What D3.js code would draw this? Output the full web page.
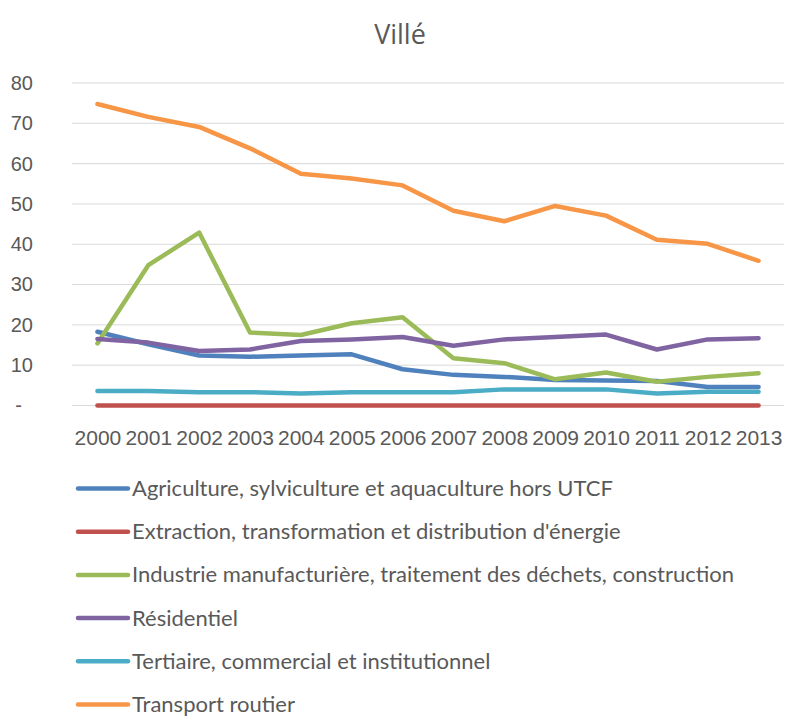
<!DOCTYPE html>
<html><head><meta charset="utf-8">
<script src="https://cdn.jsdelivr.net/npm/d3@7"></script>
<style>
html,body{margin:0;padding:0;background:#fff;}
svg{display:block;}
</style></head>
<body>
<script>
const years = ["2000","2001","2002","2003","2004","2005","2006","2007","2008","2009","2010","2011","2012","2013"];
const seriesNames = [
  "Agriculture, sylviculture et aquaculture hors UTCF",
  "Extraction, transformation et distribution d'énergie",
  "Industrie manufacturière, traitement des déchets, construction",
  "Résidentiel",
  "Tertiaire, commercial et institutionnel",
  "Transport routier"
];
const agriculture = [18.3,15.2,12.4,12.1,12.4,12.7,9.0,7.6,7.1,6.3,6.2,6.1,4.6,4.6];
const energie     = [0,0,0,0,0,0,0,0,0,0,0,0,0,0];
const industrie   = [15.4,34.8,42.9,18.1,17.5,20.4,21.9,11.7,10.5,6.5,8.2,5.9,7.1,8.0];
const residentiel = [16.5,15.6,13.5,13.9,16.0,16.4,17.0,14.8,16.4,17.0,17.6,13.9,16.4,16.7];
const tertiaire   = [3.6,3.6,3.3,3.3,3.0,3.3,3.3,3.3,4.0,4.0,4.0,3.0,3.4,3.4];
const transport   = [74.8,71.6,69.1,63.8,57.5,56.3,54.6,48.3,45.7,49.5,47.1,41.1,40.1,35.9];
const yTicks = [0,10,20,30,40,50,60,70,80];
const colors = ["#4F81BD","#C0504D","#9BBB59","#8064A2","#4BACC6","#F79646"];
const chartTitle = "Villé";

const allSeries = [agriculture, energie, industrie, residentiel, tertiaire, transport];

(function () {
const W = 787, H = 718;
const svg = d3.select("body").append("svg").attr("width", W).attr("height", H);

const mLeft = 72, mRight = 784, mTop = 83, mBottom = 405.5;
const x = d3.scalePoint().domain(years).range([mLeft, mRight]).padding(0.5);
const y = d3.scaleLinear().domain([0, 80]).range([mBottom, mTop]);

svg.append("text").attr("x", 400).attr("y", 44).attr("text-anchor", "middle")
  .attr("font-family", "'Open Sans', 'Liberation Sans', sans-serif")
  .attr("font-size", 27).attr("fill", "#595959").text(chartTitle);

svg.append("g").selectAll("line").data(yTicks).join("line")
  .attr("x1", mLeft).attr("x2", mRight)
  .attr("y1", d => y(d)).attr("y2", d => y(d))
  .attr("stroke", "#D9D9D9").attr("stroke-width", 1);

const yAxis = d3.axisLeft(y).tickValues(yTicks).tickSize(0)
  .tickFormat(d => d === 0 ? "-" : d3.format("d")(d));
const gy = svg.append("g").attr("transform", "translate(36,0)").call(yAxis);
gy.select(".domain").remove();
gy.selectAll("text").attr("font-family", "'Liberation Sans', Arial, sans-serif")
  .attr("font-size", 20).attr("fill", "#595959").attr("dx", d => d === 0 ? -11 : 0);

const xAxis = d3.axisBottom(x).tickSize(0);
const gx = svg.append("g").attr("transform", `translate(0,${mBottom + 22})`).call(xAxis);
gx.select(".domain").remove();
gx.selectAll("text").attr("font-family", "'Liberation Sans', Arial, sans-serif")
  .attr("font-size", 21).attr("fill", "#595959");

const line = d3.line().x((d, i) => x(years[i])).y(d => y(d));
svg.append("g").selectAll("path").data(allSeries).join("path")
  .attr("d", d => line(d)).attr("fill", "none")
  .attr("stroke", (d, i) => colors[i]).attr("stroke-width", 4.5)
  .attr("stroke-linejoin", "round").attr("stroke-linecap", "round");

const lg = svg.append("g");
const rowY = i => 488.5 + i * 43.2;
seriesNames.forEach((name, i) => {
  lg.append("line").attr("x1", 78).attr("x2", 128).attr("y1", rowY(i)).attr("y2", rowY(i))
    .attr("stroke", colors[i]).attr("stroke-width", 4.5).attr("stroke-linecap", "round");
  lg.append("text").attr("x", 132).attr("y", rowY(i) + 7.5)
    .attr("font-family", "Lato, 'Open Sans', sans-serif").attr("font-size", 22)
    .attr("fill", "#595959").text(name);
});
})();
</script>
</body></html>
